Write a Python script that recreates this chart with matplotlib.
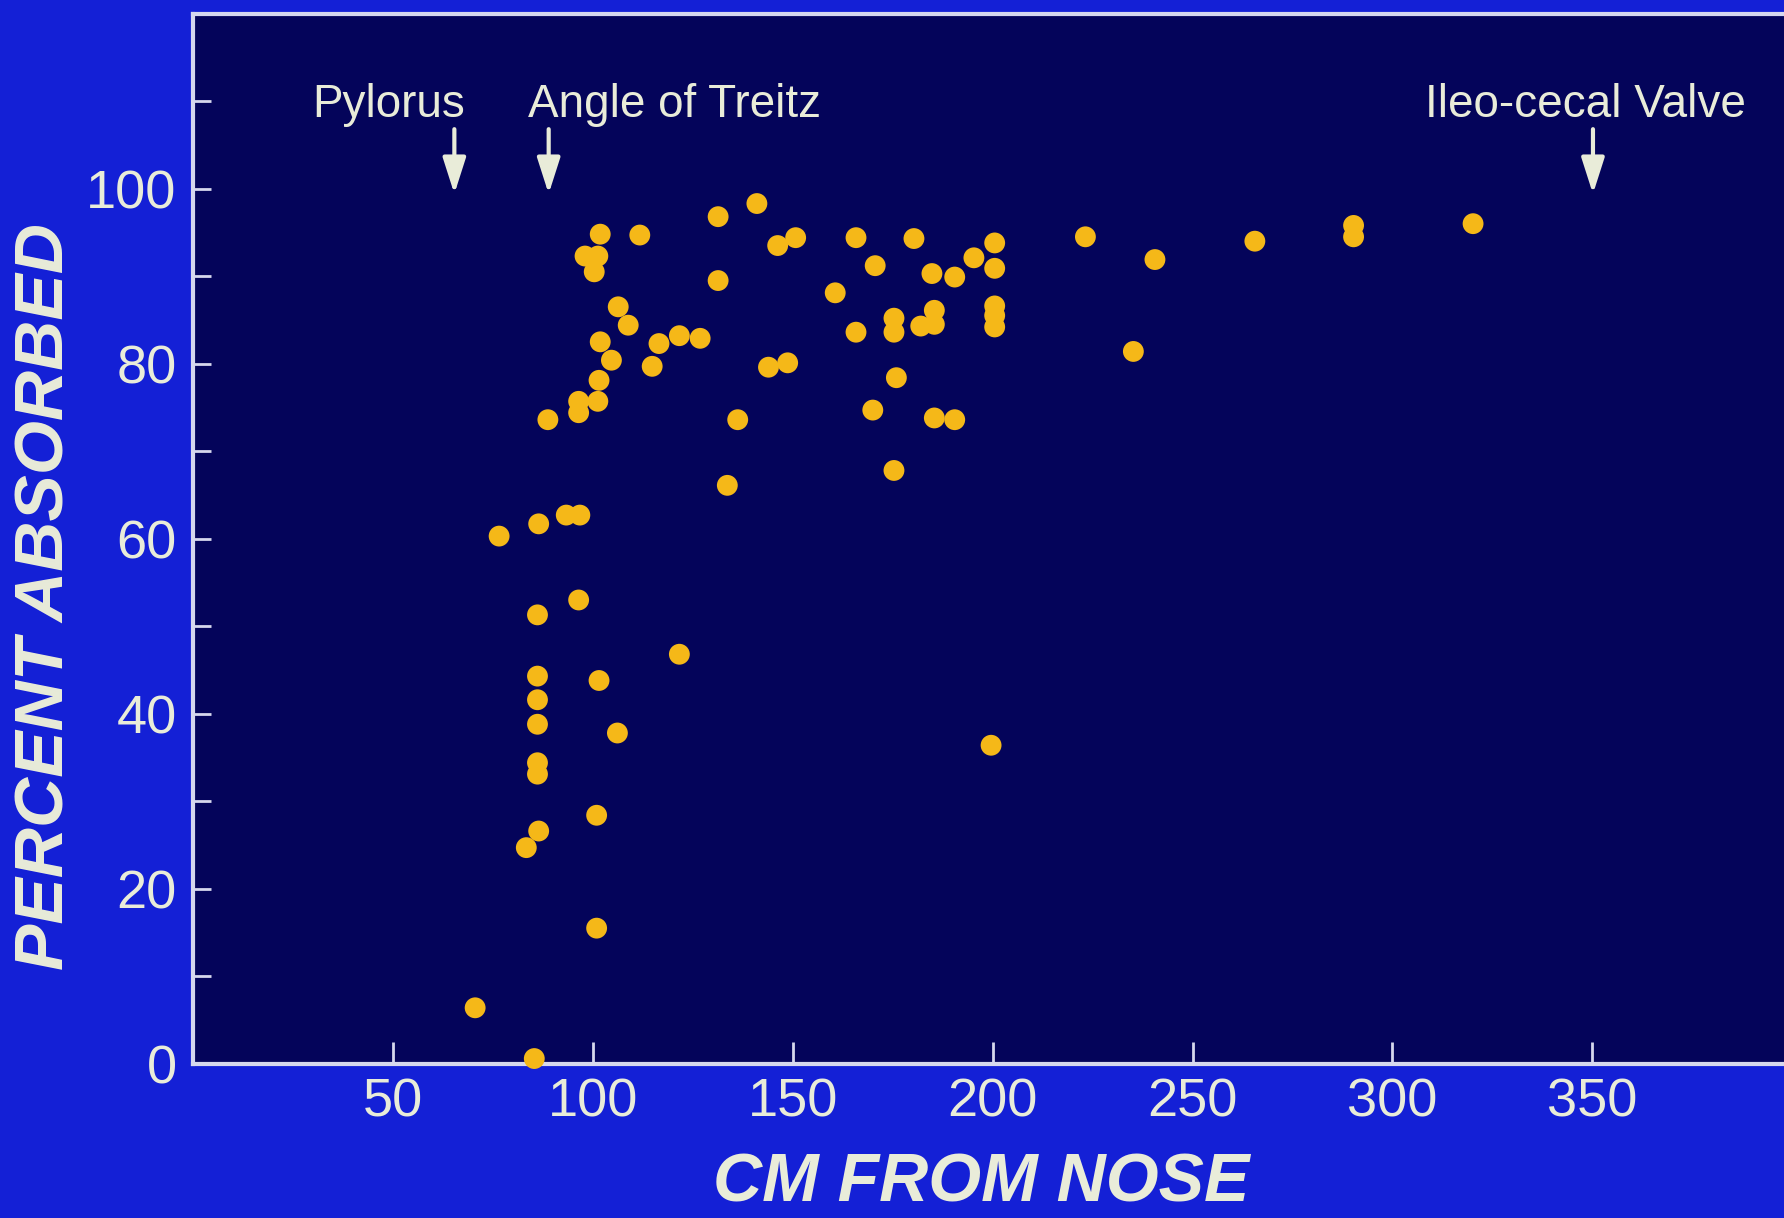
import matplotlib
matplotlib.use("Agg")
import matplotlib.pyplot as plt

# distance from nose (cm) and percent absorbed
cm_from_nose = [
    70.5, 85.3, 76.5, 86.4, 86.1, 86.1, 86.1, 86.1, 86.1, 86.1, 86.4, 83.3,
    88.7, 93.3, 96.7, 96.4, 96.4, 96.4, 101.2, 101.5, 101.8, 104.6, 98.0, 100.3,
    101.2, 101.8, 106.3, 108.8, 111.7, 114.8, 116.5, 121.6, 126.8, 101.5, 106.1, 100.9,
    100.9, 121.6, 131.3, 131.3, 141.0, 146.2, 150.7, 143.9, 148.7, 136.2, 133.6, 160.6,
    165.8, 165.8, 170.6, 170.0, 175.3, 175.3, 175.9, 175.3, 180.3, 182.0, 184.8, 185.4,
    185.4, 185.4, 190.5, 190.5, 195.3, 200.5, 200.5, 200.5, 200.5, 200.5, 199.6, 223.2,
    235.2, 240.6, 265.6, 290.3, 290.3, 320.2,
]
percent_absorbed = [
    6.4, 0.6, 60.3, 61.7, 51.3, 44.3, 41.6, 38.8, 34.4, 33.1, 26.6, 24.7,
    73.6, 62.7, 62.7, 53.0, 75.7, 74.4, 75.7, 78.1, 82.5, 80.4, 92.3, 90.5,
    92.3, 94.8, 86.5, 84.4, 94.7, 79.7, 82.3, 83.2, 82.9, 43.8, 37.8, 28.4,
    15.5, 46.8, 96.8, 89.5, 98.3, 93.5, 94.4, 79.6, 80.1, 73.6, 66.1, 88.1,
    94.4, 83.6, 91.2, 74.7, 85.2, 83.6, 78.4, 67.8, 94.3, 84.3, 90.3, 86.1,
    84.5, 73.8, 89.9, 73.6, 92.1, 93.8, 90.9, 86.6, 85.5, 84.2, 36.4, 94.5,
    81.4, 91.9, 94.0, 95.8, 94.5, 96.0,
]

landmarks = ["Pylorus", "Angle of Treitz", "Ileo-cecal Valve"]
landmark_label_x = [48.9, 120.3, 348.3]
landmark_arrow_x = [65.3, 88.9, 350.2]

x_ticks = [50, 100, 150, 200, 250, 300, 350]
y_ticks = [0, 20, 40, 60, 80, 100]
y_minor = [10, 30, 50, 70, 90, 110]

OUTER = "#1420d6"
FACE = "#04045a"
DOT = "#f5b818"
INK = "#e9ecd9"
LINE = "#d6d8ee"

plt.rcParams["font.family"] = "Liberation Sans"

fig = plt.figure(figsize=(17.84, 12.18), dpi=100, facecolor=OUTER)
ax = fig.add_axes([0.1084, 0.1266, 0.8916, 0.8622], facecolor=FACE)

ax.scatter(cm_from_nose, percent_absorbed, s=225, color=DOT, edgecolors="none",
           zorder=3, clip_on=False)

ax.set_xlim(0, 398)
ax.set_ylim(0, 120)

for side in ["left", "bottom", "top"]:
    ax.spines[side].set_color(LINE)
    ax.spines[side].set_linewidth(3)
ax.spines["right"].set_visible(False)

ax.set_xticks(x_ticks)
ax.set_xticklabels([str(v) for v in x_ticks])
ax.set_yticks(y_ticks)
ax.set_yticklabels([str(v) for v in y_ticks])
ax.set_yticks(y_minor, minor=True)
ax.tick_params(axis="x", direction="in", length=16, width=2, color=LINE,
               labelcolor=INK, labelsize=39, pad=10)
ax.tick_params(axis="y", which="both", direction="in", length=13, width=2, color=LINE,
               labelcolor=INK, labelsize=39, pad=12)

# landmark labels with arrows
for name, lx, axx in zip(landmarks, landmark_label_x, landmark_arrow_x):
    ax.text(lx, 108.2, name, ha="center", va="baseline", color=INK, fontsize=33)
    ax.annotate("", xy=(axx, 99.4), xytext=(axx, 106.8),
                arrowprops=dict(arrowstyle="-|>,head_length=1.0,head_width=0.32",
                                color=INK, lw=3, mutation_scale=22,
                                shrinkA=0, shrinkB=0))

fig.text(0.0255, 0.51, "PERCENT ABSORBED", rotation=90, ha="center", va="center",
         color=INK, fontsize=50, fontweight="bold", fontstyle="italic")
fig.text(0.55, 0.002, "CM FROM NOSE", ha="center", va="bottom",
         color=INK, fontsize=49, fontweight="bold", fontstyle="italic")

fig.savefig("out.png", dpi=100, facecolor=OUTER)
